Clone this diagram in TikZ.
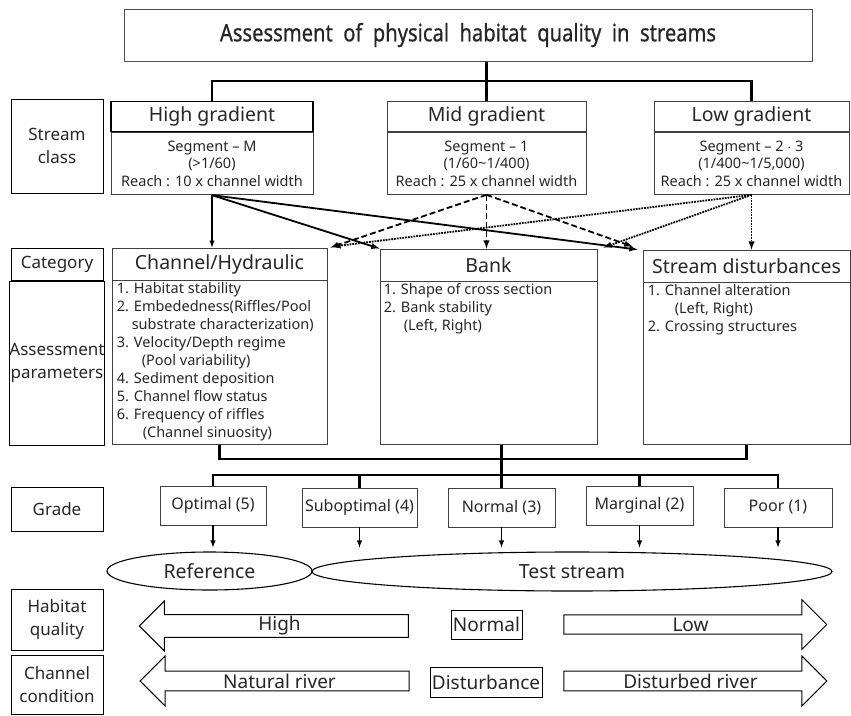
\documentclass[tikz,border=0pt]{standalone}
\usepackage{fontspec}
\setmainfont{Noto Sans}
\newfontfamily\titlefont[FakeStretch=0.84, FakeBold=0.6]{Noto Sans}
\usepackage{tikz}
\usetikzlibrary{shapes.geometric, shapes.arrows, arrows, positioning}
\definecolor{ink}{HTML}{262626}
\tikzstyle{titlebox} = [rectangle, draw=black!70, line width=1pt, minimum width=688pt, minimum height=52pt, text=ink, font=\titlefont\fontsize{24}{28}\selectfont]
\tikzstyle{labelbox} = [rectangle, draw=black, line width=1pt, minimum width=92pt, inner sep=0pt, align=center, text=ink, font=\fontsize{17}{23}\selectfont]
\tikzstyle{header} = [rectangle, draw=black!75, line width=0.9pt, minimum height=30pt, inner sep=0pt, text=ink, font=\fontsize{19.5}{22}\selectfont]
\tikzstyle{bodybox} = [rectangle, draw=black!75, line width=0.9pt, inner sep=0pt, align=center, text=ink, font=\fontsize{14.5}{17.5}\selectfont]
\tikzstyle{listtext} = [anchor=north west, inner sep=0pt, align=left, text=ink, font=\fontsize{14.5}{18}\selectfont]
\tikzstyle{gradebox} = [rectangle, draw=black!75, line width=0.9pt, minimum height=39pt, inner sep=0pt, text=ink, font=\fontsize{16}{18}\selectfont]
\tikzstyle{oval} = [ellipse, draw=black, line width=1.1pt, inner sep=0pt, text=ink, font=\fontsize{19.5}{22}\selectfont]
\tikzstyle{bigarrow} = [single arrow, draw=black, line width=1pt, single arrow head extend=12pt, single arrow head indent=0pt, minimum width=50pt, inner sep=0pt, text=ink, font=\fontsize{19}{22}\selectfont]
\tikzstyle{flatbox} = [rectangle, draw=black, line width=1pt, inner sep=1pt, text=ink, font=\fontsize{19}{22}\selectfont]
\tikzstyle{bus} = [line width=2.4pt, black]
\tikzstyle{arrow} = [line width=1.8pt, ->, >=latex]
\tikzstyle{dasharrow} = [line width=1.8pt, dash pattern=on 6pt off 3pt, ->, >=latex]
\tikzstyle{dotarrow} = [line width=1.8pt, densely dotted, ->, >=latex]
\tikzstyle{smallarrow} = [line width=1.4pt, ->, >=latex]

\begin{document}
\begin{tikzpicture}[x=1pt, y=-1pt]
\useasboundingbox (0,0) rectangle (851,715);
\node (title) [titlebox] at (468,35) {Assessment\ \ of\ \ physical\ \ habitat\ \ quality\ \ in\ \ streams};
\node (sclass) [labelbox, minimum height=94pt] at (57,146) {Stream\\class};
\node (high) [header, line width=1.5pt, draw=black, minimum width=202pt] at (212,116.5) {High gradient};
\node (highb) [bodybox, minimum width=202pt, minimum height=62pt, below=0pt of high] {Segment -- M\\(>1/60)\\Reach : 10 x channel width};
\node (mid) [header, minimum width=199pt] at (486.5,116.5) {Mid gradient};
\node (midb) [bodybox, minimum width=199pt, minimum height=62pt, below=0pt of mid] {Segment -- 1\\(1/60\textasciitilde 1/400)\\Reach : 25 x channel width};
\node (low) [header, minimum width=195pt] at (751.5,116.5) {Low gradient};
\node (lowb) [bodybox, minimum width=195pt, minimum height=62pt, below=0pt of low] {Segment -- 2 $\cdot$ 3\\(1/400\textasciitilde 1/5,000)\\Reach : 25 x channel width};
\coordinate (busa) at (486.5,81);
\draw [bus] (title.south -| mid.north) -- (mid.north);
\draw [bus] (high.north) |- (busa) -| (low.north);
\node (cat) [labelbox, minimum height=32pt] at (57,264) {Category};
\node (par) [labelbox, minimum height=164pt, below=0pt of cat] {Assessment\\parameters};
\node (chan) [header, minimum width=215pt, minimum height=32pt] at (219.5,264) {Channel/Hydraulic};
\node (chanb) [bodybox, minimum width=215pt, minimum height=164pt, below=0pt of chan] {};
\node (bank) [header, minimum width=217pt, minimum height=32pt] at (488.5,265) {Bank};
\node (bankb) [bodybox, minimum width=217pt, minimum height=163pt, below=0pt of bank] {};
\node (dist) [header, minimum width=207pt, minimum height=32pt] at (746.5,266) {Stream disturbances};
\node (distb) [bodybox, minimum width=207pt, minimum height=162pt, below=0pt of dist] {};
\node (chant) [listtext] at ([xshift=5pt,yshift=-2pt]chanb.north west) {1. Habitat stability\\2. Embededness(Riffles/Pool\\\hspace*{15pt}substrate characterization)\\3. Velocity/Depth regime\\\hspace*{25pt}(Pool variability)\\4. Sediment deposition\\5. Channel flow status\\6. Frequency of riffles\\\hspace*{26pt}(Channel sinuosity)};
\node (bankt) [listtext] at ([xshift=4pt,yshift=-2pt]bankb.north west) {1. Shape of cross section\\2. Bank stability\\\hspace*{20pt}(Left, Right)};
\node (distt) [listtext] at ([xshift=5pt,yshift=-2pt]distb.north west) {1. Channel alteration\\\hspace*{27pt}(Left, Right)\\2. Crossing structures};
\draw [arrow, line width=1.4pt] (highb.south) -- (highb.south |- chan.north);
\draw [arrow] (highb.south) -- (bank.north west);
\draw [arrow] (highb.south) -- ([xshift=-5pt]dist.north west);
\draw [dasharrow] (midb.south) -- ([xshift=3pt]chan.north east);
\draw [dasharrow] (midb.south) -- (midb.south |- bank.north);
\draw [dasharrow] (midb.south) -- ([xshift=-10pt,yshift=3pt]dist.north west);
\draw [dotarrow] (lowb.south) -- ([xshift=5pt,yshift=1pt]chan.north east);
\draw [dotarrow] (lowb.south) -- ([xshift=6pt,yshift=1pt]bank.north east);
\draw [dotarrow] (lowb.south) -- (lowb.south |- dist.north);
\node (grade) [labelbox, minimum height=44pt] at (57,509) {Grade};
\node (opt) [gradebox, minimum width=106pt] at (213,505.5) {Optimal (5)};
\node (sub) [gradebox, minimum width=115pt] at (359.5,507.5) {Suboptimal (4)};
\node (nor) [gradebox, minimum width=107pt] at (501.5,507.5) {Normal (3)};
\node (mar) [gradebox, minimum width=107pt] at (639.5,505.5) {Marginal (2)};
\node (poor) [gradebox, minimum width=108pt] at (778,507.5) {Poor (1)};
\coordinate (busb) at (0,459);
\coordinate (busc) at (0,475);
\draw [bus] (chanb.south) |- (distb.south |- busb) -- (distb.south);
\draw [bus] (nor.north |- bankb.south) -- (nor.north);
\draw [bus] (opt.north) |- (poor.north |- busc) -- (poor.north);
\draw [bus] (sub.north) -- (sub.north |- busc);
\draw [bus] (mar.north) -- (mar.north |- busc);
\node (ref) [oval, minimum width=205pt, minimum height=38pt] at (209.5,571) {Reference};
\node (test) [oval, minimum width=520pt, minimum height=39pt] at (572,571.5) {Test stream};
\foreach \g in {opt, sub, nor, mar, poor}
  \draw [smallarrow, shorten >=4pt] (\g.south) -- (\g.south |- ref.north);
\node (hq) [labelbox, minimum height=61pt] at (57,619.5) {Habitat\\quality};
\node (cc) [labelbox, minimum height=59pt] at (57,684.5) {Channel\\condition};
\node (hi) [bigarrow, shape border rotate=180, minimum height=269pt] at (279.5,626) {High};
\node (nrm) [flatbox, minimum width=71pt, minimum height=29pt] at (486.5,624.5) {Normal};
\node (lo) [bigarrow, minimum height=263pt] at (690.5,624.5) {Low};
\node (nat) [bigarrow, shape border rotate=180, minimum height=269pt] at (279.5,681) {Natural river};
\node (dst) [flatbox, minimum width=112pt, minimum height=30pt] at (486,682) {Disturbance};
\node (dsr) [bigarrow, minimum height=263pt] at (690.5,681) {Disturbed river};
\end{tikzpicture}
\end{document}
